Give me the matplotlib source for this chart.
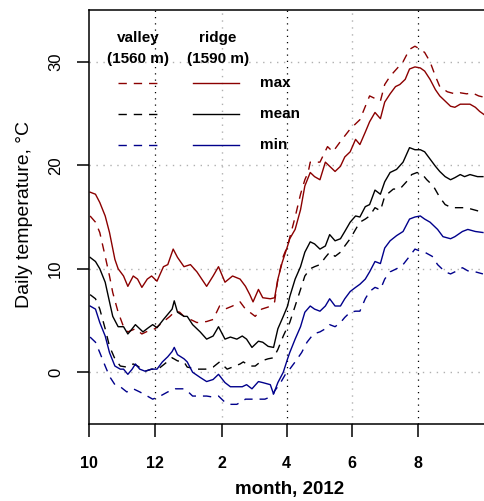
import matplotlib
matplotlib.use("Agg")
import matplotlib.pyplot as plt
import numpy as np

plt.rcParams['font.family'] = ['Liberation Sans', 'DejaVu Sans']

# days counted from 1 Oct 2011
month_ticks = [0, 61, 123, 183, 244, 305]
month_labels = ['10', '12', '2', '4', '6', '8']
black_grid_days = [61, 183, 305]
grey_grid_days = [123, 244]
temp_ticks = [0, 10, 20, 30]

##############################
# ridge (1590 m), solid lines
##############################
ridge_max_day = [1, 6, 10, 15, 19, 24, 27, 32, 36, 41, 45, 49, 54, 58, 63, 69, 73, 78, 82, 88,
                 94, 100, 109, 115, 120, 126, 133, 140, 145, 149, 152, 157, 161, 168, 172, 175, 179, 184, 186,
                 191, 196, 200, 205, 209, 214, 219, 223, 228, 233, 237, 242, 247, 251, 256, 260, 265, 270,
                 274, 279, 284, 288, 293, 297, 302, 307, 311, 316, 321, 325, 330, 335, 339, 344, 348, 353,
                 358, 362, 366]
ridge_max = [17.4, 17.2, 16.4, 15.1, 13.5, 10.9, 10.0, 9.3, 8.3, 9.3, 9.0, 8.2, 9.0, 9.3, 8.8, 10.2, 10.4, 11.9, 11.1, 10.2,
             10.4, 9.7, 8.3, 9.3, 10.2, 8.7, 9.3, 9.0, 8.3, 7.5, 6.8, 8.0, 7.2, 7.1, 7.2, 9.0, 10.6, 12.2, 12.9,
             13.8, 15.7, 18.0, 19.3, 18.9, 18.6, 20.3, 19.9, 19.4, 19.9, 20.8, 21.3, 22.5, 22.0, 23.2, 24.2, 25.1, 24.5,
             26.1, 26.9, 27.6, 27.8, 28.3, 29.3, 29.5, 29.4, 29.1, 28.3, 27.3, 26.7, 26.2, 25.7, 25.6, 25.9, 25.9, 25.9,
             25.6, 25.2, 24.9]

ridge_mean_day = [1, 6, 10, 15, 19, 22, 27, 32, 36, 40, 43, 47, 50, 55, 59, 63, 69, 73, 77, 79, 82, 88,
                  91, 96, 103, 109, 115, 120, 126, 131, 137, 142, 146, 151, 157, 161, 166, 171, 175, 180, 184,
                  186, 191, 196, 200, 205, 209, 214, 219, 223, 228, 233, 237, 242, 247, 251, 256, 260, 265, 270,
                  274, 279, 285, 291, 297, 302, 307, 311, 316, 321, 325, 330, 335, 339, 344, 348, 353, 360, 365]
ridge_mean = [11.1, 10.7, 10.0, 8.7, 6.8, 5.4, 4.4, 4.4, 3.7, 4.2, 4.6, 4.2, 3.9, 4.3, 4.6, 4.3, 5.1, 5.6, 6.1, 6.9, 5.8, 5.4,
              5.4, 4.6, 3.9, 3.2, 3.5, 4.4, 3.2, 3.4, 3.2, 3.5, 3.2, 2.4, 3.0, 2.9, 2.5, 2.4, 4.2, 5.4, 6.4,
              7.3, 9.0, 10.2, 11.6, 12.6, 12.4, 11.9, 12.2, 13.3, 12.7, 12.9, 13.6, 14.5, 15.1, 15.0, 16.0, 16.2, 17.6, 17.2,
              18.4, 19.3, 19.6, 20.3, 21.7, 21.5, 21.5, 21.3, 20.6, 19.9, 19.4, 18.9, 18.6, 18.8, 19.1, 18.9, 19.1, 18.9, 18.9]

ridge_min_day = [1, 6, 10, 15, 19, 24, 29, 32, 36, 40, 43, 47, 52, 58, 63, 68, 73, 77, 79, 82, 88,
                 91, 96, 103, 109, 115, 120, 126, 131, 137, 142, 146, 151, 157, 161, 168, 171, 175, 180, 184,
                 186, 191, 196, 200, 205, 209, 214, 219, 223, 228, 233, 237, 242, 247, 251, 256, 260, 265, 270,
                 274, 279, 285, 291, 297, 302, 307, 311, 316, 323, 328, 335, 339, 346, 351, 358, 365]
ridge_min = [6.4, 6.1, 4.8, 3.5, 1.9, 0.6, 0.3, 0.3, -0.2, 0.3, 0.8, 0.3, 0.1, 0.3, 0.3, 1.0, 1.5, 2.0, 2.4, 1.7, 1.3,
             1.0, 0.0, -0.5, -0.9, -0.7, -0.2, -1.0, -1.4, -1.4, -1.4, -1.2, -1.6, -0.9, -1.0, -1.2, -2.1, -1.0, 0.0, 1.3,
             1.9, 3.2, 4.4, 5.8, 6.4, 6.1, 5.9, 6.4, 7.1, 6.4, 6.4, 7.1, 7.8, 8.2, 8.5, 9.0, 9.7, 10.7, 10.5,
             12.0, 12.7, 13.2, 13.6, 14.8, 15.0, 15.1, 14.8, 14.5, 13.8, 13.1, 12.9, 13.1, 13.6, 13.8, 13.6, 13.5]

##############################
# valley (1560 m), dashed lines
##############################
valley_max_day = [1, 6, 10, 15, 19, 22, 27, 32, 36, 43, 49, 55, 61, 68, 75, 80, 84, 88,
                  94, 100, 109, 115, 121, 126, 133, 140, 145, 149, 154, 160, 166, 172, 175, 180, 184,
                  191, 196, 200, 203, 205, 214, 221, 226, 233, 242, 251, 260, 270, 274, 279, 285, 291, 297,
                  302, 307, 311, 316, 321, 325, 332, 339, 344, 350, 355, 361, 365]
valley_max = [15.1, 14.5, 13.5, 11.2, 9.3, 7.7, 5.8, 4.4, 3.9, 4.2, 3.7, 4.0, 4.2, 4.8, 5.4, 5.9, 5.8, 5.4,
              5.1, 4.8, 4.9, 5.1, 6.4, 6.1, 6.4, 6.8, 6.1, 5.8, 5.4, 6.1, 6.3, 6.8, 9.0, 11.2, 12.2,
              15.0, 17.2, 18.6, 19.3, 20.3, 20.3, 21.8, 21.3, 22.3, 23.5, 24.4, 26.7, 26.2, 27.8, 28.6, 29.3, 30.0, 31.2,
              31.5, 31.2, 30.9, 30.0, 28.6, 27.6, 27.1, 26.9, 27.0, 26.9, 27.0, 26.7, 26.6]

valley_mean_day = [1, 6, 10, 15, 19, 24, 29, 35, 41, 45, 52, 58, 64, 70, 77, 82, 88,
                   91, 100, 108, 115, 121, 128, 133, 140, 143, 149, 154, 160, 166, 171, 175, 180, 184,
                   186, 191, 196, 200, 205, 209, 214, 219, 223, 228, 233, 237, 242, 247, 251, 256, 260, 265, 270,
                   274, 282, 288, 295, 299, 304, 309, 313, 319, 325, 330, 336, 342, 348, 353, 360, 365]
valley_mean = [7.5, 7.1, 6.1, 4.2, 2.5, 1.3, 0.6, 0.5, 0.8, 0.6, 0.1, 0.3, 0.3, 0.8, 1.4, 1.1, 1.0,
               0.5, 0.3, 0.3, 0.5, 1.0, 0.3, 0.5, 0.8, 1.0, 0.6, 0.6, 1.1, 1.3, 1.4, 2.2, 3.5, 4.4,
               4.8, 6.4, 8.0, 9.3, 10.0, 10.2, 10.4, 11.1, 11.6, 11.2, 11.6, 12.2, 12.9, 13.8, 14.5, 14.8, 15.1, 15.9, 15.6,
               17.0, 17.7, 17.7, 18.5, 19.1, 19.3, 19.1, 18.6, 18.0, 16.9, 16.2, 15.9, 15.9, 15.9, 15.8, 15.6, 15.5]

valley_min_day = [1, 6, 10, 15, 19, 24, 29, 35, 41, 47, 54, 59, 66, 73, 80, 88,
                  91, 96, 103, 109, 115, 120, 126, 131, 137, 142, 145, 151, 157, 163, 170, 172, 177, 182,
                  186, 191, 197, 202, 208, 214, 219, 223, 228, 233, 237, 242, 247, 251, 256, 260, 265, 270,
                  274, 279, 285, 291, 297, 302, 307, 311, 318, 323, 330, 335, 341, 346, 351, 358, 365]
valley_min = [3.4, 2.9, 1.9, 0.6, -0.4, -1.2, -1.4, -1.9, -1.6, -1.9, -2.3, -2.6, -2.3, -1.9, -1.6, -1.6,
              -1.8, -2.3, -2.3, -2.3, -2.4, -2.3, -2.9, -3.1, -3.1, -2.8, -2.6, -2.6, -2.6, -2.6, -2.3, -1.8, -1.1, -0.2,
              0.3, 1.0, 1.9, 2.9, 3.7, 3.9, 4.2, 4.6, 4.4, 4.8, 5.3, 5.8, 5.9, 5.9, 7.1, 7.8, 8.2, 8.0,
              9.0, 9.7, 10.0, 10.4, 11.2, 11.9, 11.7, 11.6, 11.2, 10.4, 9.7, 9.5, 9.8, 10.1, 9.8, 9.7, 9.5]

RED = '#8B0000'
BLUE = '#00008B'
DASH = (0, (6, 5))

fig = plt.figure(figsize=(4.84, 5.01), dpi=100)
ax = fig.add_axes([89 / 484, 77 / 501, 395 / 484, 414 / 501])

# grid first so curves sit on top
for t in temp_ticks:
    ax.axhline(t, color='#b0b0b0', lw=1.0, ls=(0, (1, 4)), zorder=0)
for d in grey_grid_days:
    ax.axvline(d, color='#b0b0b0', lw=1.0, ls=(0, (1, 4)), zorder=0)
for d in black_grid_days:
    ax.axvline(d, color='black', lw=0.9, ls=(0, (1, 4)), zorder=0)

ax.plot(valley_max_day, valley_max, color=RED, lw=1.0, ls=DASH)
ax.plot(valley_mean_day, valley_mean, color='black', lw=1.0, ls=DASH)
ax.plot(valley_min_day, valley_min, color=BLUE, lw=1.0, ls=DASH)
ax.plot(ridge_max_day, ridge_max, color=RED, lw=1.0)
ax.plot(ridge_mean_day, ridge_mean, color='black', lw=1.0)
ax.plot(ridge_min_day, ridge_min, color=BLUE, lw=1.0)

ax.set_xlim(0, 366)
ax.set_ylim(-5, 35)

ax.set_xticks(month_ticks)
ax.set_xticklabels(month_labels, fontweight='bold', fontsize=11.5)
ax.set_yticks(temp_ticks)
ax.set_yticklabels([str(t) for t in temp_ticks], fontsize=12, rotation=90, va='center')
ax.tick_params(axis='x', direction='out', length=9.4, width=1.1, pad=14)
ax.tick_params(axis='y', direction='out', length=8.6, width=1.1, pad=10)

for s in ['left', 'bottom', 'top']:
    ax.spines[s].set_linewidth(1.1)
ax.spines['right'].set_visible(False)

ax.set_ylabel('Daily temperature, \u00b0C', fontsize=14)
ax.yaxis.set_label_coords(-0.142, 0.505)
ax.set_xlabel('month, 2012', fontsize=13.5, fontweight='bold')
ax.xaxis.set_label_coords(0.509, -0.137)

# hand made legend, two line columns + label column
ax.text(0.124, 0.932, 'valley', transform=ax.transAxes, ha='center', va='center',
        fontsize=11, fontweight='bold')
ax.text(0.124, 0.882, '(1560 m)', transform=ax.transAxes, ha='center', va='center',
        fontsize=11, fontweight='bold')
ax.text(0.327, 0.932, 'ridge', transform=ax.transAxes, ha='center', va='center',
        fontsize=11, fontweight='bold')
ax.text(0.327, 0.882, '(1590 m)', transform=ax.transAxes, ha='center', va='center',
        fontsize=11, fontweight='bold')
leg_rows = [('max', RED, 0.824), ('mean', 'black', 0.749), ('min', BLUE, 0.674)]
for name, col, yy in leg_rows:
    ax.plot([0.073, 0.180], [yy, yy], transform=ax.transAxes, color=col, lw=1.0, ls=DASH)
    ax.plot([0.263, 0.380], [yy, yy], transform=ax.transAxes, color=col, lw=1.0)
    ax.text(0.433, yy, name, transform=ax.transAxes, ha='left', va='center',
            fontsize=11, fontweight='bold')

fig.savefig('out.png', dpi=100)
